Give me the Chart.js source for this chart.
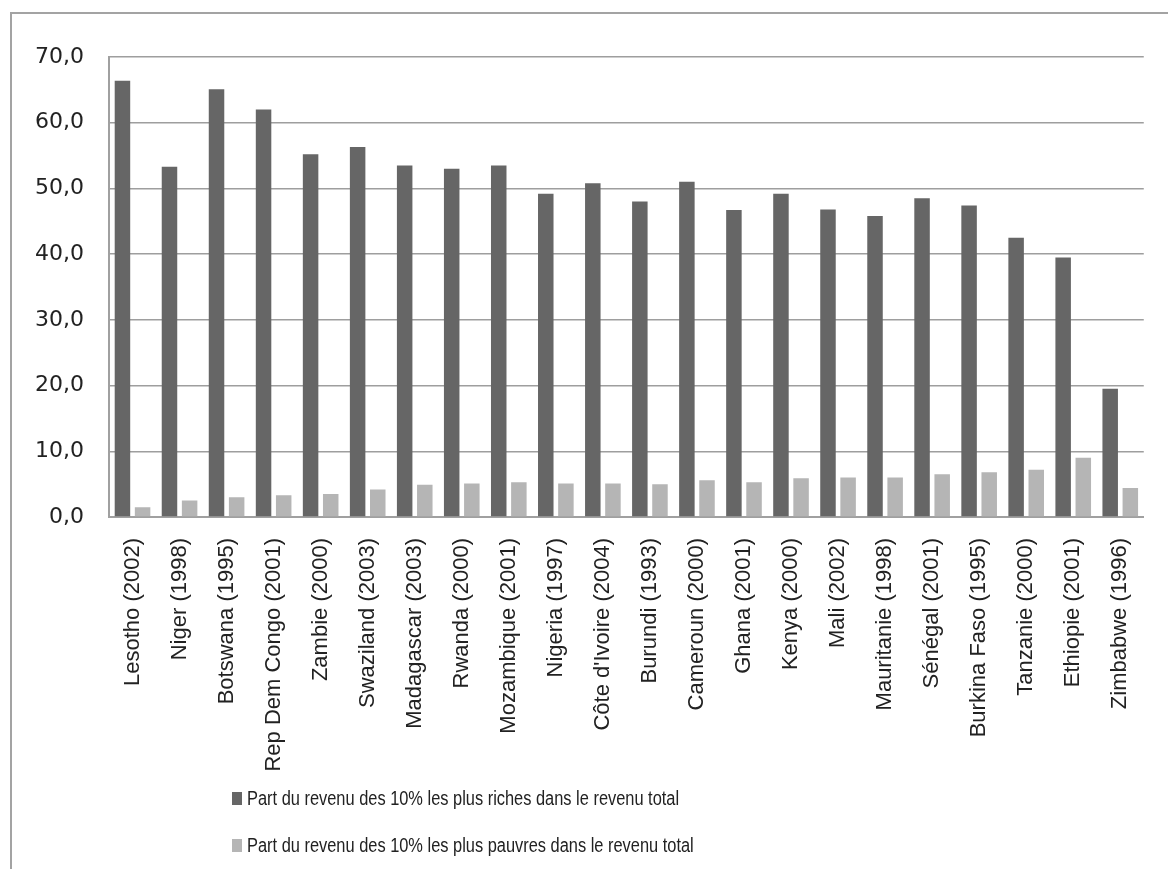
<!DOCTYPE html>
<html>
<head>
<meta charset="utf-8">
<script src="https://cdn.jsdelivr.net/npm/chart.js@4"></script>
<style>
  html, body { margin: 0; padding: 0; background: #fff; overflow: hidden; }
  #wrap { position: relative; width: 1168px; height: 869px; }
  #frame {
    position: absolute; left: 10px; top: 12px; width: 1200px; height: 900px;
    border: 2px solid #a3a3a3; pointer-events: none;
  }
  #legend { position: absolute; left: 232px; top: 784px; }
  .item { display: flex; align-items: center; height: 28px; margin-bottom: 19px; }
  .swatch { width: 10px; height: 13px; margin-right: 5px; flex: none; }
  .label {
    font-family: "Liberation Sans", sans-serif; font-size: 20px; color: #222;
    white-space: nowrap; display: inline-block; transform: scaleX(0.82); transform-origin: left center;
  }
</style>
</head>
<body>
<div id="wrap">
  <canvas id="chart" width="1168" height="869"></canvas>
  <div id="frame"></div>
  <div id="legend"></div>
</div>
<script>
const countries = [
  "Lesotho (2002)", "Niger (1998)", "Botswana (1995)", "Rep Dem Congo (2001)",
  "Zambie (2000)", "Swaziland (2003)", "Madagascar (2003)", "Rwanda (2000)",
  "Mozambique (2001)", "Nigeria (1997)", "Côte d'Ivoire (2004)", "Burundi (1993)",
  "Cameroun (2000)", "Ghana (2001)", "Kenya (2000)", "Mali (2002)",
  "Mauritanie (1998)", "Sénégal (2001)", "Burkina Faso (1995)", "Tanzanie (2000)",
  "Ethiopie (2001)", "Zimbabwe (1996)"
]
const richest = [66.4, 53.3, 65.1, 62.0, 55.2, 56.3, 53.5, 53.0, 53.5, 49.2, 50.8,
  48.0, 51.0, 46.7, 49.2, 46.8, 45.8, 48.5, 47.4, 42.5, 39.5, 19.5]
const poorest = [1.5, 2.5, 3.0, 3.3, 3.5, 4.2, 4.9, 5.1, 5.3, 5.1, 5.1,
  5.0, 5.6, 5.3, 5.9, 6.0, 6.0, 6.5, 6.8, 7.2, 9.0, 4.4]
const seriesNames = [
  "Part du revenu des 10% les plus riches dans le revenu total",
  "Part du revenu des 10% les plus pauvres dans le revenu total"
]

const chart = new Chart(document.getElementById("chart").getContext("2d"), {
  type: "bar",
  data: {
    labels: countries,
    datasets: [
      { label: seriesNames[0], data: richest, backgroundColor: "#666666", borderWidth: 0 },
      { label: seriesNames[1], data: poorest, backgroundColor: "#b5b5b5", borderWidth: 0 }
    ]
  },
  options: {
    responsive: false,
    animation: false,
    devicePixelRatio: 1,
    categoryPercentage: 0.856,
    barPercentage: 0.77,
    layout: { padding: { top: 57, right: 15, left: 0, bottom: 0 } },
    plugins: {
      legend: { display: false },
      tooltip: { enabled: false }
    },
    scales: {
      x: {
        grid: { display: false, drawTicks: false },
        border: { display: true, color: "#a0a0a0", width: 2 },
        ticks: {
          autoSkip: false,
          minRotation: 90,
          maxRotation: 90,
          padding: 21,
          color: "#222",
          font: { family: "'Liberation Sans', sans-serif", size: 22 }
        },
        afterFit: (scale) => { scale.height = 352 }
      },
      y: {
        min: 0,
        max: 70,
        grid: { color: "#9e9e9e", lineWidth: 1.5, drawTicks: false },
        border: { display: true, color: "#a0a0a0", width: 2 },
        ticks: {
          stepSize: 10,
          padding: 25,
          color: "#222",
          font: { family: "'DejaVu Sans', sans-serif", size: 22 },
          callback: (value) => Number(value).toFixed(1).replace(".", ",")
        },
        afterFit: (scale) => { scale.width = 109 }
      }
    }
  }
})

// legend rows built from the chart's own datasets
const legendEl = document.getElementById("legend")
chart.data.datasets.forEach((ds) => {
  const row = document.createElement("div")
  row.className = "item"
  const sw = document.createElement("span")
  sw.className = "swatch"
  sw.style.background = ds.backgroundColor
  const txt = document.createElement("span")
  txt.className = "label"
  txt.textContent = ds.label
  row.appendChild(sw)
  row.appendChild(txt)
  legendEl.appendChild(row)
})
</script>
</body>
</html>
